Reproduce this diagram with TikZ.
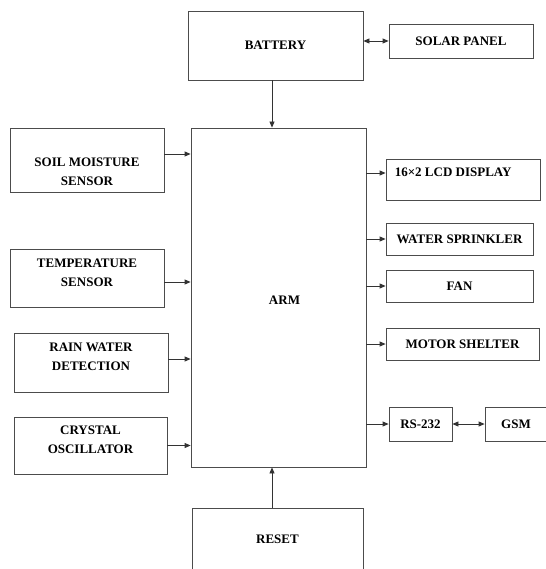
\documentclass[tikz,border=0pt]{standalone}
\usepackage{fontspec}
\setmainfont{Liberation Serif}
\usetikzlibrary{arrows.meta}
\begin{document}
\begin{tikzpicture}[x=1pt, y=-1pt,
		box/.style={draw=black!70, line width=.8pt, inner sep=0pt, align=center,
			font=\bfseries\fontsize{13}{19}\selectfont},
		size/.style 2 args={minimum width=#1pt, minimum height=#2pt},
		lbl/.style={inner sep=0pt, align=center, font=\bfseries\fontsize{13}{19}\selectfont},
		arr/.style={draw=black!80, line width=.8pt, -{Triangle[length=6pt,width=5pt]}},
		darr/.style={arr, {Triangle[length=6pt,width=5pt]}-{Triangle[length=6pt,width=5pt]}}]
	\useasboundingbox (0,0) rectangle (545,569);

	% power and controller
	\node [box, size={175}{69}] (battery) at (275.5,45.5) {BATTERY};
	\node [box, size={144}{34}] (solar) at (461,41) {SOLAR PANEL};
	\node [box, size={175}{339}, label={[lbl,xshift=6pt,yshift=-3pt]center:ARM}] (arm) at (278.5,297.5) {};
	\node [box, size={171}{63}] (reset) at (277.5,539.5) {RESET};

	% inputs
	\node [box, size={154}{64}, label={[lbl,yshift=-11.5pt]center:{SOIL MOISTURE\\SENSOR}}] (soil) at (87,160) {};
	\node [box, size={154}{58}, label={[lbl,yshift=5pt]center:{TEMPERATURE\\SENSOR}}] (temp) at (87,278) {};
	\node [box, size={154}{59}, label={[lbl,yshift=5.5pt]center:{RAIN WATER\\DETECTION}}] (rain) at (91,362.5) {};
	\node [box, size={153}{57}, label={[lbl,yshift=5.5pt]center:{CRYSTAL\\OSCILLATOR}}] (crystal) at (90.5,445.5) {};

	% outputs
	\node [box, size={154}{41}, label={[lbl,anchor=west,xshift=9pt,yshift=-14pt]north west:{16×2 LCD DISPLAY}}] (lcd) at (463,179.5) {};
	\node [box, size={147}{32}] (sprinkler) at (459.5,239) {WATER SPRINKLER};
	\node [box, size={147}{32}] (fan) at (459.5,286) {FAN};
	\node [box, size={153}{32}] (motor) at (462.5,344) {MOTOR SHELTER};
	\node [box, size={63}{34}] (rs) at (420.5,424) {RS-232};
	\node [box, size={62}{34}] (gsm) at (516,424) {GSM};

	\draw [darr] (solar.west -| battery.east) -- (solar.west);
	\draw [arr] ([xshift=-3.5pt]battery.south) -- ([xshift=-3.5pt]battery.south |- arm.north);
	\draw [arr] ([xshift=-5.5pt]reset.north) -- ([xshift=-5.5pt]reset.north |- arm.south);

	\draw [arr] ([yshift=6pt]soil.east) -- ([yshift=6pt]soil.east -| arm.west);
	\draw [arr] ([yshift=-4pt]temp.east) -- ([yshift=-4pt]temp.east -| arm.west);
	\draw [arr] ([yshift=3.5pt]rain.east) -- ([yshift=3.5pt]rain.east -| arm.west);
	\draw [arr] (crystal.east) -- (crystal.east -| arm.west);

	\draw [arr] ([yshift=6.5pt]arm.east |- lcd.west) -- ([yshift=6.5pt]lcd.west);
	\foreach \n in {sprinkler, fan, motor, rs} {
		\draw [arr] (arm.east |- \n.west) -- (\n.west);
	}
	\draw [darr] (rs.east) -- (gsm.west);
\end{tikzpicture}
\end{document}
